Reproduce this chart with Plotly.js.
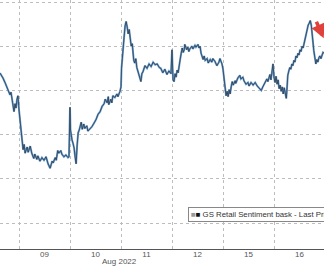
<!DOCTYPE html>
<html>
<head>
<meta charset="utf-8">
<script src="https://cdn.plot.ly/plotly-3.0.1.min.js"></script>
<style>html,body{margin:0;padding:0;background:#fff;}#chart{width:324px;height:267px;}</style>
</head>
<body>
<div id="chart"></div>
<script>
// Trading days shown on the axis (Aug 2022), x = trading-day index (fraction = intraday time)
const dayLabels = ["09", "10", "11", "12", "15", "16"];
const dayCenters = [0.5, 1.5, 2.5, 3.5, 4.5, 5.5];
const seriesName = "GS Retail Sentiment bask - Last Price";

const t = [
 -0.373,-0.333,-0.314,-0.275,-0.255,-0.216,-0.176,-0.157,-0.137,-0.118,-0.098,-0.078,-0.059,-0.039,-0.02,
 0.0,0.02,0.04,0.06,0.08,0.10,0.12,0.16,0.18,0.22,0.25,0.29,0.31,0.35,0.37,0.41,0.45,0.49,0.53,0.57,0.61,0.63,0.65,0.67,0.71,0.73,0.75,0.76,0.78,0.82,0.84,0.88,0.92,0.96,0.98,
 1.0,1.01,1.02,1.04,1.06,1.08,1.10,1.12,1.14,1.16,1.18,1.2,1.22,1.24,1.27,1.29,1.33,1.35,1.39,1.43,1.47,1.51,1.55,1.59,1.63,1.67,1.69,1.73,1.75,1.76,1.80,1.82,1.84,1.88,1.92,1.94,1.98,
 2.0,2.01,2.02,2.04,2.06,2.08,2.10,2.12,2.14,2.16,2.18,2.20,2.22,2.24,2.25,2.27,2.29,2.31,2.33,2.35,2.37,2.39,2.41,2.43,2.47,2.51,2.55,2.59,2.63,2.67,2.71,2.75,2.78,2.82,2.86,2.90,2.94,2.98,
 3.0,3.02,3.04,3.06,3.08,3.10,3.12,3.14,3.16,3.18,3.20,3.22,3.24,3.25,3.29,3.31,3.33,3.35,3.39,3.41,3.45,3.47,3.51,3.53,3.55,3.57,3.59,3.61,3.63,3.65,3.69,3.71,3.75,3.78,3.80,3.84,3.88,3.92,3.94,3.96,3.98,
 4.0,4.02,4.04,4.06,4.08,4.10,4.12,4.14,4.16,4.18,4.20,4.24,4.25,4.29,4.33,4.35,4.39,4.41,4.45,4.49,4.51,4.55,4.59,4.63,4.67,4.71,4.75,4.78,4.82,4.86,4.88,4.90,4.92,4.94,4.96,4.98,
 5.0,5.02,5.04,5.06,5.08,5.10,5.12,5.14,5.16,5.18,5.20,5.22,5.24,5.25,5.27,5.29,5.31,5.33,5.35,5.37,5.39,5.41,5.43,5.45,5.47,5.49,5.51,5.53,5.55,5.57,5.59,5.61,5.63,5.65,5.67,5.69,5.71,5.73,5.75,5.76,5.78,5.80,5.82,5.84,5.86,5.88,5.90,5.92,5.94,5.96,5.98
];
const price = [
 101.97,101.6,101.4,100.9,100.6,100.2,99.5,99.8,98.9,98.3,97.6,98.5,98.0,99.0,99.4,
 97.8,96.5,95.2,94.4,93.3,93.9,92.9,93.6,93.0,93.7,92.9,92.3,92.8,92.2,92.6,92.0,92.4,92.1,92.5,91.7,91.2,91.6,92.0,91.8,92.4,92.1,92.8,93.2,92.9,93.2,92.8,92.5,92.7,92.4,92.5,
 98.1,95.5,95.0,94.4,94.0,93.5,92.5,91.7,93.8,95.2,95.5,95.9,96.4,95.6,96.2,95.7,96.0,95.4,95.6,95.9,96.3,96.7,97.3,97.6,98.2,98.5,99.0,98.6,99.3,98.4,99.0,98.6,99.4,99.2,99.6,99.3,99.9,
 100.4,102.5,103.4,104.9,106.0,107.3,107.8,107.2,106.4,106.9,105.9,105.0,105.3,104.0,103.4,103.1,103.6,102.6,102.3,101.8,101.4,101.0,101.9,102.1,102.8,102.5,103.0,102.7,103.2,102.9,103.0,102.6,102.5,102.0,102.4,101.8,102.2,101.9,
 104.6,101.2,101.0,101.9,101.5,102.3,102.0,103.0,103.5,104.2,104.8,104.3,104.6,105.2,104.6,104.9,104.4,104.7,105.0,104.7,105.1,104.9,105.2,104.8,105.0,104.2,103.8,103.5,103.9,103.4,103.6,103.1,103.5,103.2,103.6,103.3,102.8,103.2,103.6,103.3,103.0,
 102.4,101.2,100.2,99.4,99.9,99.3,100.1,99.6,100.4,101.0,100.6,101.1,100.8,101.4,101.7,101.3,101.5,101.1,100.7,100.9,100.5,100.9,100.6,100.9,100.5,100.3,100.0,100.4,100.8,101.3,101.0,101.5,101.8,101.2,102.3,103.0,
 101.5,100.9,101.6,100.7,101.2,100.2,100.6,99.9,100.4,99.6,100.3,99.5,99.1,99.8,101.7,102.2,102.6,102.4,103.0,102.8,103.4,103.2,103.9,103.7,104.2,104.0,104.6,104.4,105.0,104.8,105.4,105.7,106.4,106.9,107.4,107.6,107.9,107.4,106.6,105.7,104.5,103.4,103.0,103.5,103.2,103.7,103.9,103.6,104.1,104.3,104.2
];

const font = "Liberation Sans, Arial, sans-serif";

const traces = [
  {x: t, y: price, type: "scatter", mode: "lines", name: seriesName,
   line: {color: "#6a9fd2", width: 2}, showlegend: false, hoverinfo: "skip"},
  {x: t, y: price, type: "scatter", mode: "lines", name: seriesName,
   line: {color: "#262e36", width: 0.7}, showlegend: false}
];

const layout = {
  width: 324, height: 267,
  margin: {l: 0, r: 0, t: 0, b: 18, pad: 0},
  paper_bgcolor: "#ffffff", plot_bgcolor: "#ffffff",
  showlegend: false,
  xaxis: {
    range: [-0.3725, 5.98],
    tickmode: "array", tickvals: dayCenters, ticktext: dayLabels,
    showgrid: false, zeroline: false,
    showline: true, linecolor: "#555", linewidth: 1,
    ticks: "", ticklabelstandoff: -3,
    tickfont: {family: font, size: 8, color: "#555"},
    minor: {tick0: 0, dtick: 1, showgrid: true, gridcolor: "#bdbdbd", griddash: "dot", gridwidth: 1, ticks: ""}
  },
  yaxis: {
    range: [82.06, 110.23],
    tick0: 0, dtick: 5,
    showgrid: true, gridcolor: "#bdbdbd", griddash: "dot", gridwidth: 1,
    showticklabels: false, zeroline: false, showline: false, ticks: ""
  },
  annotations: [
    {xref: "x", yref: "paper", x: 1.98, y: -0.052, yanchor: "middle", xanchor: "center",
     text: "Aug 2022", showarrow: false, font: {family: font, size: 8, color: "#555"}},
    {xref: "paper", yref: "paper", x: 0.580, y: 0.1386, xanchor: "left", yanchor: "middle",
     text: "<span style='color:#9a9a9a'>■</span><span style='color:#111'>■</span> " + seriesName,
     showarrow: false, align: "left",
     font: {family: font, size: 7.8, color: "#333"},
     bgcolor: "#ffffff", bordercolor: "#888", borderwidth: 1, borderpad: 2},
    {xref: "x", yref: "y", x: 5.975, y: 105.9, ax: -8, ay: -18,
     text: "", showarrow: true, arrowhead: 2, arrowsize: 0.8, arrowwidth: 3.5, arrowcolor: "#e0413a"}
  ]
};

Plotly.newPlot("chart", traces, layout, {staticPlot: true, displayModeBar: false});
</script>
</body>
</html>
